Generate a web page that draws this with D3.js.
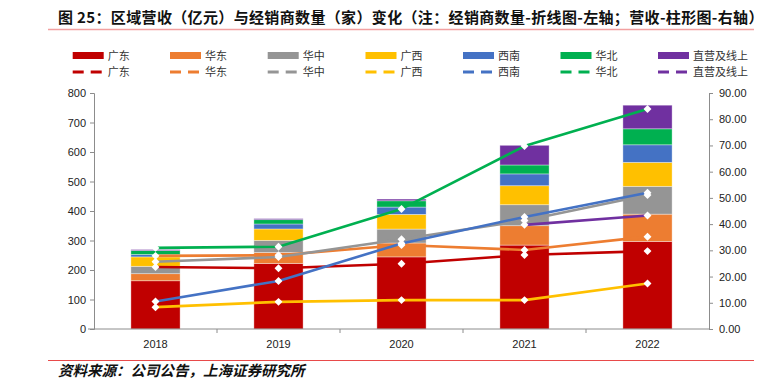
<!DOCTYPE html>
<html><head><meta charset="utf-8">
<script src="https://cdn.jsdelivr.net/npm/d3@7"></script>
<style>
body{margin:0;background:#fff;}
svg{display:block;font-family:"Liberation Sans",Arial,sans-serif;}
</style></head>
<body><svg id="c" width="770" height="381"></svg>
<script>
const years = ["2018","2019","2020","2021","2022"];
const regions = ["广东","华东","华中","广西","西南","华北","直营及线上"];
const colors = ["#C00000","#ED7D31","#959595","#FFC000","#4472C4","#00B050","#7030A0"];
// 营收 (亿元), right axis, stacked bars
const revGD = [18.4, 25.0, 27.5, 32.0, 33.4];
const revHD = [2.7, 4.2, 5.3, 7.4, 10.4];
const revHZ = [2.8, 4.6, 5.3, 8.0, 10.6];
const revGX = [3.6, 4.35, 5.6, 7.25, 9.15];
const revXN = [0.9, 1.9, 2.8, 4.5, 6.7];
const revHB = [1.5, 1.65, 2.4, 3.4, 6.1];
const revZY = [0.4, 0.4, 0.65, 7.5, 9.0];
// 经销商数量 (家), left axis, lines
const dlGD = [210, 206, 221, 251, 264];
const dlHD = [248, 250, 285, 268, 313];
const dlHZ = [228, 244, 304, 368, 454];
const dlGX = [74, 92, 98, 98, 154];
const dlXN = [93, 163, 290, 380, 462];
const dlHB = [275, 279, 407, 620, 746];
const dlZY = [null, null, null, 353, 385];
const leftTicks = [0,100,200,300,400,500,600,700,800];
const rightTicks = [0,10,20,30,40,50,60,70,80,90];
const titleText = "图 25：区域营收（亿元）与经销商数量（家）变化（注：经销商数量-折线图-左轴；营收-柱形图-右轴）";
const sourceText = "资料来源：公司公告，上海证券研究所";

const revSeries = [revGD, revHD, revHZ, revGX, revXN, revHB, revZY];
const dlSeries = [dlGD, dlHD, dlHZ, dlGX, dlXN, dlHB, dlZY];

const svg = d3.select("#c");
const L = 94, R = 709, T = 93, B = 329;
const x = d3.scaleBand().domain(years).range([L, R]).padding(0);
const yL = d3.scaleLinear().domain([0, 800]).range([B, T]);
const yR = d3.scaleLinear().domain([0, 90]).range([B, T]);
const axisColor = "#8c8c8c";
const cjk = '"Noto Sans CJK SC","Noto Sans",sans-serif';

// Title
svg.append("text").attr("x", 58).attr("y", 23).attr("font-family", cjk)
  .attr("font-size", 15).attr("letter-spacing", 0.35).attr("font-weight", "bold").attr("fill", "#111").text(titleText);
svg.append("line").attr("x1", 48).attr("x2", 754).attr("y1", 29.5).attr("y2", 29.5)
  .attr("stroke", "#f2a0a0").attr("stroke-width", 1.5);

// Legend
const legX = [72.7, 170, 267.7, 365.5, 463, 560.5, 658];
regions.forEach((r, i) => {
  const g = svg.append("g").attr("transform", `translate(${legX[i]},0)`);
  g.append("rect").attr("x", 0).attr("y", 52).attr("width", 31).attr("height", 7).attr("fill", colors[i]);
  g.append("text").attr("x", 35).attr("y", 60).attr("font-family", cjk).attr("font-size", 11)
    .attr("fill", "#333").text(r);
  g.append("line").attr("x1", 0).attr("x2", 31).attr("y1", 72).attr("y2", 72)
    .attr("stroke", colors[i]).attr("stroke-width", 3).attr("stroke-dasharray", "11,7");
  g.append("text").attr("x", 35).attr("y", 76).attr("font-family", cjk).attr("font-size", 11)
    .attr("fill", "#333").text(r);
});

// Stacked bars
const tableRows = years.map((yr, j) => {
  const o = {year: yr};
  regions.forEach((r, i) => o[r] = revSeries[i][j]);
  return o;
});
const stack = d3.stack().keys(regions)(tableRows);
const bw = x.bandwidth() * 0.4;
stack.forEach((layer, i) => {
  svg.append("g").selectAll("rect").data(layer).join("rect")
    .attr("x", d => x(d.data.year) + (x.bandwidth() - bw) / 2)
    .attr("width", bw)
    .attr("y", d => yR(d[1]))
    .attr("height", d => yR(d[0]) - yR(d[1]))
    .attr("fill", colors[i])
    .attr("stroke", "#ffffff").attr("stroke-opacity", 0.45).attr("stroke-width", 0.8);
});

// Axes
const axL = svg.append("g").attr("transform", `translate(${L},0)`)
  .call(d3.axisLeft(yL).tickValues(leftTicks).tickSize(4).tickPadding(4));
const axR = svg.append("g").attr("transform", `translate(${R},0)`)
  .call(d3.axisRight(yR).tickValues(rightTicks).tickSize(4).tickPadding(6).tickFormat(d3.format(".2f")));
const axB = svg.append("g").attr("transform", `translate(0,${B})`)
  .call(d3.axisBottom(x).tickSize(0).tickPadding(11));
// category boundary ticks
svg.append("g").selectAll("line").data(years.slice(1)).join("line")
  .attr("x1", d => x(d)).attr("x2", d => x(d)).attr("y1", B).attr("y2", B + 4)
  .attr("stroke", axisColor);
[axL, axR, axB].forEach(a => {
  a.selectAll("path").attr("stroke", axisColor).attr("stroke-width", 1);
  a.selectAll("line").attr("stroke", axisColor);
  a.selectAll("text").attr("font-size", 11).attr("fill", "#222")
    .attr("font-family", '"Liberation Sans",Arial,sans-serif');
});
axB.select("path").attr("d", `M${L - 6},0H${R}`);

// Lines
const lineGen = d3.line().defined(d => d != null)
  .x((d, j) => x(years[j]) + x.bandwidth() / 2).y(d => yL(d));
dlSeries.forEach((s, i) => {
  svg.append("path").datum(s).attr("d", lineGen).attr("fill", "none")
    .attr("stroke", colors[i]).attr("stroke-width", 2.6).attr("stroke-linejoin", "round");
});
const diamond = d3.symbol().type(d3.symbolDiamond2).size(40);
dlSeries.forEach((s, i) => {
  svg.append("g").selectAll("path").data(s.map((v, j) => ({v, j})).filter(d => d.v != null))
    .join("path").attr("d", diamond)
    .attr("transform", d => `translate(${x(years[d.j]) + x.bandwidth() / 2},${yL(d.v)})`)
    .attr("fill", "#fff");
});

// Footer
svg.append("line").attr("x1", 48).attr("x2", 754).attr("y1", 360.5).attr("y2", 360.5)
  .attr("stroke", "#e84a4a").attr("stroke-width", 1);
svg.append("text").attr("x", 58).attr("y", 376).attr("font-family", cjk)
  .attr("font-size", 14.5).attr("font-style", "italic").attr("font-weight", "bold")
  .attr("fill", "#111").text(sourceText);
</script></body></html>
